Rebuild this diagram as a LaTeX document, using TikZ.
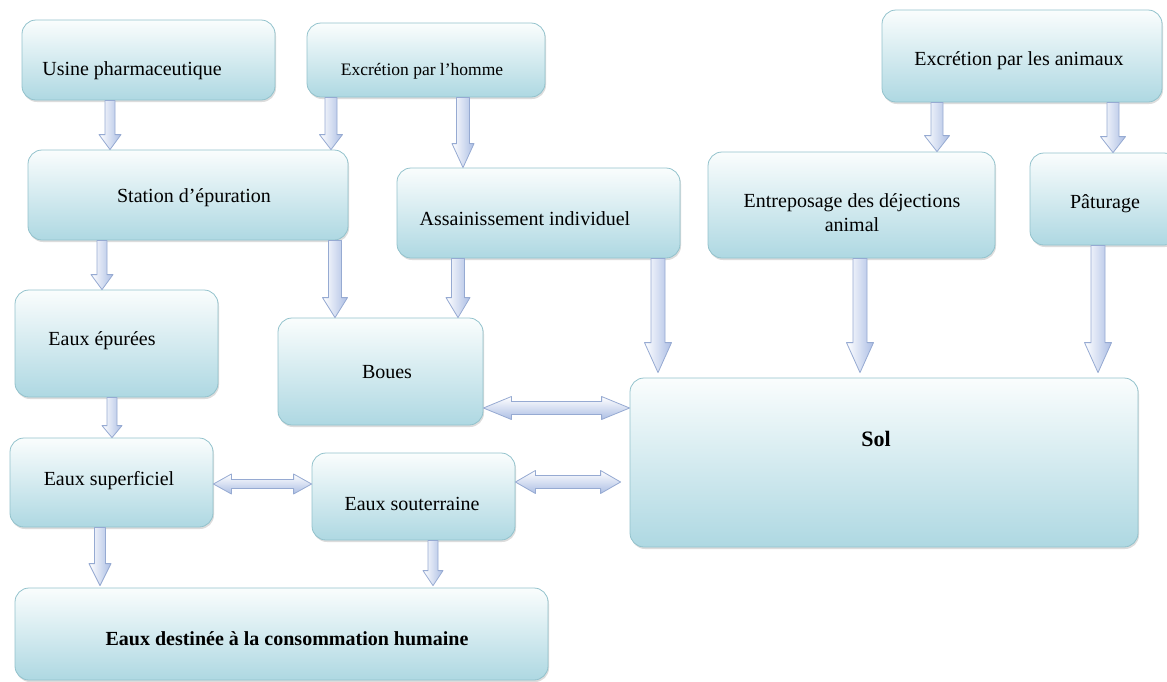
\documentclass[tikz,border=0pt]{standalone}
\usepackage{fontspec}
\setmainfont{Liberation Serif}
\usepackage{tikz}
\usetikzlibrary{calc,positioning,shadows}

\definecolor{boxtop}{RGB}{250,253,253}
\definecolor{boxbottom}{RGB}{174,216,226}
\definecolor{boxline}{RGB}{146,194,204}
\definecolor{flowline}{RGB}{150,170,210}
\definecolor{flowfill}{RGB}{172,190,228}

\tikzset{
  box/.style={draw=boxline, line width=0.8pt, rounded corners=14pt, top color=boxtop, bottom color=boxbottom,
    drop shadow={shadow xshift=1pt, shadow yshift=-2pt, fill=black!45, opacity=.3}, inner sep=0pt},
  txt/.style={font=\fontsize{20}{24}\selectfont, inner sep=0pt, align=center},
  flowv/.style={draw=flowline, line width=0.8pt, left color=white, right color=flowfill, line join=round},
  flowh/.style={draw=flowline, line width=0.8pt, top color=white, bottom color=flowfill, line join=round}
}

% block arrow going down: start, tip, shaft half width, head half width, head length
\newcommand{\flowdown}[5]{%
  \path[flowv] let \p1=#1, \p2=#2 in
    (\x1-#3,\y1) -- (\x1-#3,\y2+#5) -- (\x1-#4,\y2+#5) -- (\x1,\y2)
    -- (\x1+#4,\y2+#5) -- (\x1+#3,\y2+#5) -- (\x1+#3,\y1) -- cycle;}
% block arrow with two heads, left tip and right tip
\newcommand{\flowboth}[5]{%
  \path[flowh] let \p1=#1, \p2=#2 in
    (\x1,\y1) -- (\x1+#5,\y1+#4) -- (\x1+#5,\y1+#3) -- (\x2-#5,\y1+#3) -- (\x2-#5,\y1+#4)
    -- (\x2,\y1) -- (\x2-#5,\y1-#4) -- (\x2-#5,\y1-#3) -- (\x1+#5,\y1-#3) -- (\x1+#5,\y1-#4) -- cycle;}

\begin{document}
\begin{tikzpicture}[x=1pt,y=-1pt]
  \useasboundingbox (0,0) rectangle (1167,681);
  \clip (0,0) rectangle (1167,681);

  % boxes
  \node[box, minimum width=253, minimum height=80] (usine) at (148.5,60) {};
  \node[box, minimum width=238, minimum height=74] (homme) at (426,60) {};
  \node[box, minimum width=280, minimum height=92] (animaux) at (1022,56) {};
  \node[box, minimum width=320, minimum height=90] (station) at (188,195) {};
  \node[box, minimum width=283, minimum height=90] (assain) at (538.5,213) {};
  \node[box, minimum width=287, minimum height=106] (entrepo) at (851.5,205) {};
  \node[box, minimum width=148, minimum height=92] (patur) at (1104,199) {};
  \node[box, minimum width=203, minimum height=107] (epur) at (116.5,343.5) {};
  \node[box, minimum width=205, minimum height=107] (boues) at (380.5,371.5) {};
  \node[box, minimum width=508, minimum height=169] (sol) at (884,462.5) {};
  \node[box, minimum width=203, minimum height=89] (superf) at (111.5,482.5) {};
  \node[box, minimum width=203, minimum height=87] (souter) at (413.5,496.5) {};
  \node[box, minimum width=533, minimum height=92] (conso) at (281.5,634) {};

  % texts
  \node[txt] (tusine) at (132,71) {Usine pharmaceutique};
  \node[txt, font=\fontsize{17.5}{21}\selectfont] (thomme) at (422,71) {Excrétion par l’homme};
  \node[txt] (tanimaux) at (1019,61) {Excrétion par les animaux};
  \node[txt] (tstation) at (194,198) {Station d’épuration};
  \node[txt] (tassain) at (525,219) {Assainissement individuel};
  \node[txt] (tentrepo) at (852,213) {Entreposage des déjections\\animal};
  \node[txt] (tpatur) at (1105,204) {Pâturage};
  \node[txt] (tepur) at (102,341) {Eaux épurées};
  \node[txt] (tboues) at (387,372) {Boues};
  \node[txt, font=\fontsize{22}{26}\selectfont\bfseries] (tsol) at (876,439) {Sol};
  \node[txt] (tsuperf) at (109,481) {Eaux superficiel};
  \node[txt] (tsouter) at (412,504) {Eaux souterraine};
  \node[txt, font=\fontsize{20}{24}\selectfont\bfseries] (tconso) at (287,639) {Eaux destinée à la consommation humaine};

  % arrows down
  \flowdown{(usine.south -| 110,0)}{(station.north -| 110,0)}{5}{11}{15}
  \flowdown{(homme.south -| 331,0)}{(station.north -| 331,0)}{6}{11.5}{15}
  \flowdown{(homme.south -| 463,0)}{(assain.north -| 463,0)}{6.5}{11}{24}
  \flowdown{(animaux.south -| 937,0)}{(entrepo.north -| 937,0)}{6}{12.5}{16}
  \flowdown{(animaux.south -| 1113,0)}{(patur.north -| 1113,0)}{6}{12.5}{16}
  \flowdown{(station.south -| 102,0)}{(epur.north -| 102,0)}{5}{11}{15}
  \flowdown{(station.south -| 335,0)}{(boues.north -| 335,0)}{6.5}{12.5}{20}
  \flowdown{(assain.south -| 458,0)}{(boues.north -| 458,0)}{6.5}{12}{20}
  \flowdown{(assain.south -| 658,0)}{($(sol.north -| 658,0)+(0,-5)$)}{7}{13.5}{30}
  \flowdown{(entrepo.south -| 860,0)}{($(sol.north -| 860,0)+(0,-5)$)}{7}{13.5}{30}
  \flowdown{(patur.south -| 1098,0)}{($(sol.north -| 1098,0)+(0,-5)$)}{7}{13.5}{30}
  \flowdown{(epur.south -| 112,0)}{(superf.north -| 112,0)}{5}{10}{12}
  \flowdown{(superf.south -| 100,0)}{($(conso.north -| 100,0)+(0,-2)$)}{5.5}{11}{22}
  \flowdown{(souter.south -| 433,0)}{($(conso.north -| 433,0)+(0,-2)$)}{5}{10}{15}

  % arrows both ways
  \flowboth{(boues.east |- 0,408)}{(sol.west |- 0,408)}{6.5}{11.5}{28}
  \flowboth{(superf.east |- 0,484)}{(souter.west |- 0,484)}{4.5}{10}{18}
  \flowboth{(souter.east |- 0,482)}{($(sol.west |- 0,482)+(-9,0)$)}{6.5}{11.5}{20}
\end{tikzpicture}
\end{document}
